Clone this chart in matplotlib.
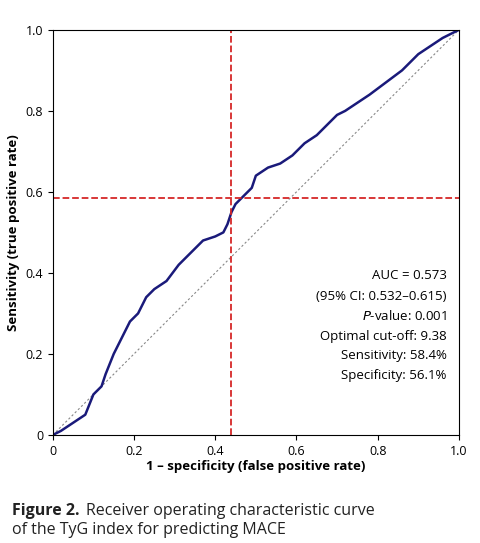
import matplotlib
matplotlib.use("Agg")
import matplotlib.pyplot as plt

fpr = [0, 0.02, 0.05, 0.08, 0.10, 0.12, 0.13, 0.15, 0.17, 0.19, 0.21, 0.23, 0.25, 0.28, 0.31, 0.34,
       0.37, 0.40, 0.42, 0.43, 0.44, 0.45, 0.47, 0.49, 0.50, 0.53, 0.56, 0.59, 0.62, 0.65, 0.67,
       0.70, 0.72, 0.75, 0.78, 0.82, 0.86, 0.90, 0.93, 0.96, 0.98, 1.0]
tpr = [0, 0.01, 0.03, 0.05, 0.10, 0.12, 0.15, 0.20, 0.24, 0.28, 0.30, 0.34, 0.36, 0.38, 0.42, 0.45,
       0.48, 0.49, 0.50, 0.52, 0.55, 0.57, 0.59, 0.61, 0.64, 0.66, 0.67, 0.69, 0.72, 0.74, 0.76,
       0.79, 0.80, 0.82, 0.84, 0.87, 0.90, 0.94, 0.96, 0.98, 0.99, 1.0]
cutoff_fpr = 0.439
cutoff_tpr = 0.584
stats = ["AUC = 0.573", "(95% CI: 0.532–0.615)", "$\\it{P}$-value: 0.001",
         "Optimal cut-off: 9.38", "Sensitivity: 58.4%", "Specificity: 56.1%"]

plt.rcParams['font.family'] = ['Open Sans', 'DejaVu Sans']
fig = plt.figure(figsize=(4.8, 5.43), dpi=100)
ax = fig.add_axes([0.110, 0.199, 0.846, 0.746])
ax.plot([0, 1], [0, 1], ls=(0, (2, 2)), color='#888888', lw=0.8)
ax.plot(fpr, tpr, color='#1a1a7a', lw=1.8)
ax.axvline(cutoff_fpr, color='#d62728', ls='--', lw=1.3)
ax.axhline(cutoff_tpr, color='#d62728', ls='--', lw=1.3)
ax.set_xlim(0, 1); ax.set_ylim(0, 1)
ax.set_xticks([0, 0.2, 0.4, 0.6, 0.8, 1.0])
ax.set_xticklabels(["0", "0.2", "0.4", "0.6", "0.8", "1.0"])
ax.set_yticks([0, 0.2, 0.4, 0.6, 0.8, 1.0])
ax.set_yticklabels(["0", "0.2", "0.4", "0.6", "0.8", "1.0"])
ax.tick_params(labelsize=9)
ax.set_xlabel("1 – specificity (false positive rate)", fontsize=9.5, fontweight='bold', labelpad=2)
ax.set_ylabel("Sensitivity (true positive rate)", fontsize=9.5, fontweight='bold', labelpad=4)
ys = [0.393, 0.343, 0.294, 0.244, 0.195, 0.146]
for s, y in zip(stats, ys):
    ax.text(0.97, y, s, ha='right', va='center', fontsize=9.5)
fig.text(12/480, 1 - 511/543, "Figure 2.", fontsize=11.5, fontweight='bold', color='#222222', va='center')
fig.text(86/480, 1 - 511/543, "Receiver operating characteristic curve", fontsize=11.5, color='#222222', va='center')
fig.text(12/480, 1 - 530/543, "of the TyG index for predicting MACE", fontsize=11.5, color='#222222', va='center')
fig.savefig("out.png", dpi=100)
